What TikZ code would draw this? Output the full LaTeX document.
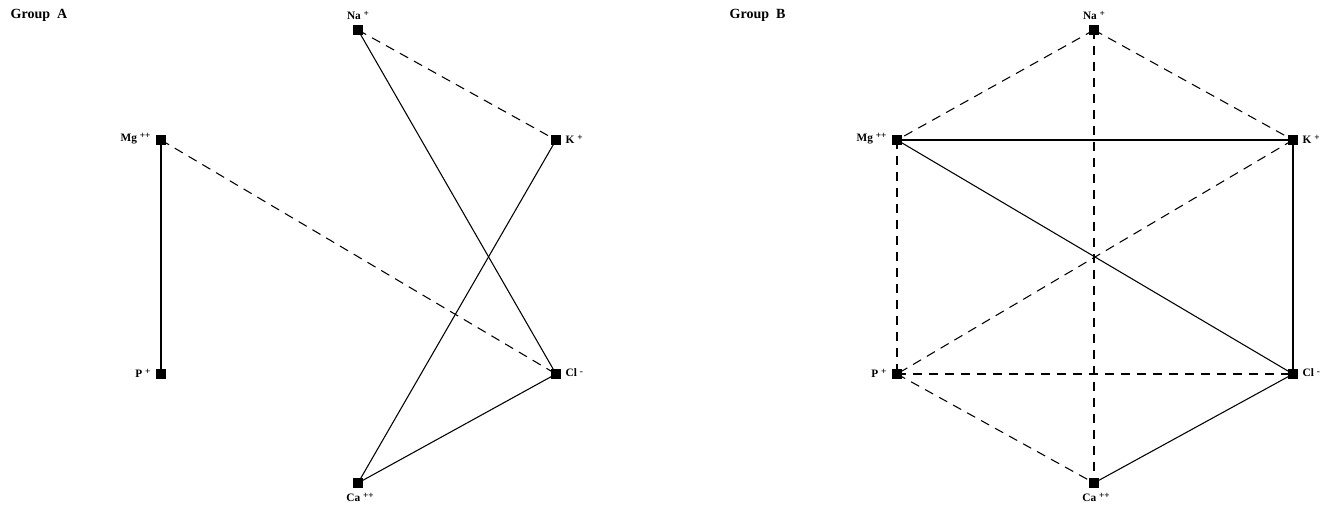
\documentclass[tikz,border=0pt]{standalone}
\usepackage{fontspec}
\setmainfont{Liberation Serif}
\newcommand{\sps}[1]{\hspace{0.25em}\raisebox{0.55ex}{\fontsize{7}{8}\selectfont #1}}
\begin{document}
\begin{tikzpicture}[x=0.75pt,y=-0.75pt,
  ion/.style={fill=black,minimum size=6.8pt,inner sep=0pt,rectangle},
  lab/.style={font=\bfseries\fontsize{8.5}{10}\selectfont,inner sep=1pt},
  grp/.style={font=\bfseries\fontsize{10.5}{12}\selectfont,anchor=west},
  solidl/.style={line width=0.8pt},
  dashl/.style={line width=0.8pt,dash pattern=on 7pt off 5pt}]
\useasboundingbox (0,0) rectangle (1328,506);
\node[grp] (ga) at (6,15) {Group\ \ A};
\node[grp] (gb) at (725,15) {Group\ \ B};
% Group A
\node[ion] (aNa) at (358,30) {};
\node[ion] (aK) at (556,140) {};
\node[ion] (aMg) at (161,140) {};
\node[ion] (aP) at (161,374) {};
\node[ion] (aCl) at (556,374) {};
\node[ion] (aCa) at (358,483) {};
\node[lab] at (358,15) {Na\sps{+}};
\node[lab,anchor=east] at (152,139) {Mg\sps{++}};
\node[lab,anchor=west] at (564,139) {K\sps{+}};
\node[lab,anchor=east] at (152,373) {P\sps{+}};
\node[lab,anchor=west] at (564,373) {Cl\sps{-}};
\node[lab] at (360,497) {Ca\sps{++}};
\draw[solidl] (aNa.center) -- (aCl.center);
\draw[dashl] (aNa.center) -- (aK.center);
\draw[solidl] (aMg.center) -- (aP.center);
\draw[dashl] (aMg.center) -- (aCl.center);
\draw[solidl] (aK.center) -- (aCa.center);
\draw[solidl] (aCa.center) -- (aCl.center);
% Group B
\node[ion] (bNa) at (1094,30) {};
\node[ion] (bK) at (1293,140) {};
\node[ion] (bMg) at (897,140) {};
\node[ion] (bP) at (897,374) {};
\node[ion] (bCl) at (1293,374) {};
\node[ion] (bCa) at (1094,483) {};
\node[lab] at (1094,15) {Na\sps{+}};
\node[lab,anchor=east] at (888,139) {Mg\sps{++}};
\node[lab,anchor=west] at (1301,139) {K\sps{+}};
\node[lab,anchor=east] at (888,373) {P\sps{+}};
\node[lab,anchor=west] at (1301,373) {Cl\sps{-}};
\node[lab] at (1096,497) {Ca\sps{++}};
\draw[dashl] (bNa.center) -- (bMg.center);
\draw[dashl] (bNa.center) -- (bK.center);
\draw[dashl] (bNa.center) -- (bCa.center);
\draw[solidl] (bMg.center) -- (bK.center);
\draw[solidl] (bMg.center) -- (bCl.center);
\draw[dashl] (bMg.center) -- (bP.center);
\draw[solidl] (bK.center) -- (bCl.center);
\draw[dashl] (bK.center) -- (bP.center);
\draw[dashl] (bP.center) -- (bCl.center);
\draw[dashl] (bP.center) -- (bCa.center);
\draw[solidl] (bCa.center) -- (bCl.center);
\end{tikzpicture}
\end{document}
